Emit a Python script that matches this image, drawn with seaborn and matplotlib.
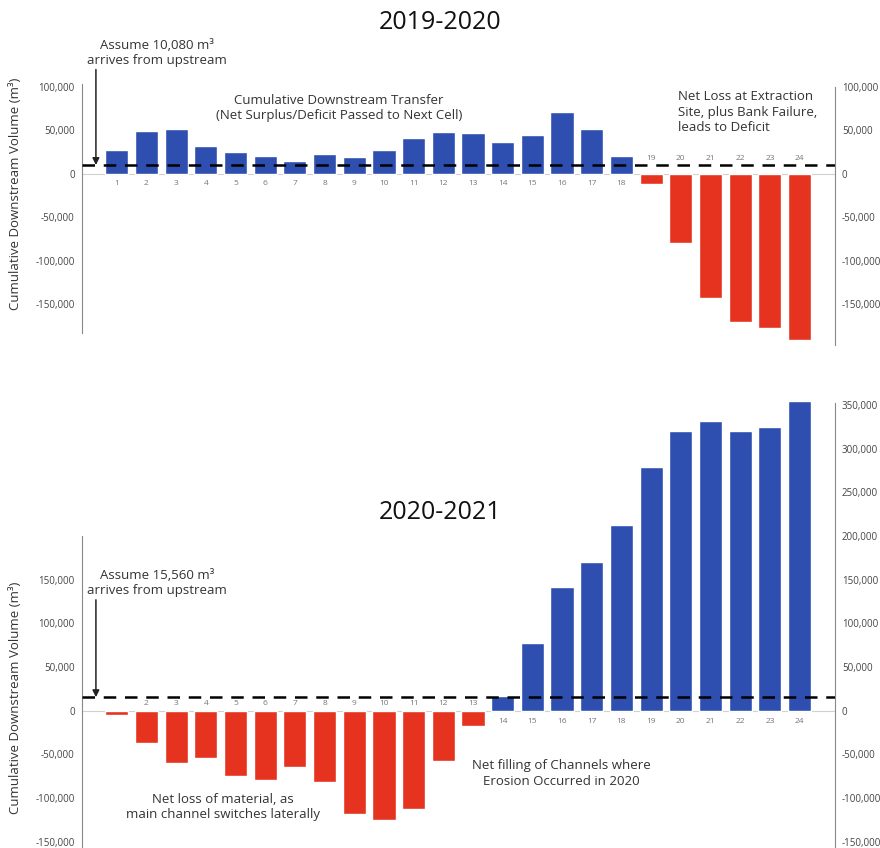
import pandas as pd
import matplotlib.pyplot as plt
import seaborn as sns
import numpy as np

# 数据
cells = list(range(1, 25))
vol_2019 = [27000, 49000, 51000, 32500, 25000, 20000, 15000, 22500, 19000, 27500,
            41500, 48000, 47000, 37000, 44500, 71000, 51000, 20000,
            -12000, -80000, -143000, -171000, -177000, -191000]
vol_2020 = [-5000, -37000, -60000, -54000, -75000, -79000, -64000, -82000, -118000, -125500,
            -112000, -58000, -17000, 17500, 77500, 142000, 170000, 213000,
            279000, 320000, 332000, 320000, 325000, 355000]
labels_2019 = [str(c) for c in cells]
labels_2020 = [''] + [str(c) for c in cells[1:]]
upstream_2019 = 10080
upstream_2020 = 15560

blue = '#2e4fb0'
red = '#e5331f'

sns.set_style('white')
plt.rcParams['font.family'] = ['Open Sans', 'DejaVu Sans']

fig = plt.figure(figsize=(8.8, 8.48), dpi=100)
ax1 = fig.add_axes([0.0928, 0.5932, 0.856, 0.3125])
ax2 = fig.add_axes([0.0928, 0.0, 0.856, 0.540])


def fmt(v):
    return f"{v:,}"


def draw_panel(ax, vols, labels, upstream, ylim, left_ticks, right_ticks, left_bounds, right_bounds,
               lab_up, lab_down):
    df = pd.DataFrame({'cell': cells, 'volume': vols})
    df['sign'] = np.where(df['volume'] >= 0, 'pos', 'neg')
    sns.barplot(data=df, x='cell', y='volume', hue='sign', palette={'pos': blue, 'neg': red},
                native_scale=True, width=0.78, dodge=False, legend=False, saturation=1,
                errorbar=None, ax=ax)
    ax.set_xlim(-0.18, 25.19)
    ax.set_ylim(*ylim)
    ax.axhline(0, color='#d0d0d0', lw=0.8, zorder=0)
    ax.axhline(upstream, color='black', lw=1.8, dashes=(5, 3.5), zorder=3)
    ax.set_xticks([])
    ax.set_xlabel('')
    ax.set_ylabel('Cumulative Downstream Volume (m³)', fontsize=9.5, color='#333')
    for s in ['top', 'right', 'bottom']:
        ax.spines[s].set_visible(False)
    ax.spines['left'].set_color('#888')
    ax.spines['left'].set_linewidth(0.8)
    ax.spines['left'].set_bounds(*left_bounds)
    ax.set_yticks(left_ticks)
    ax.set_yticklabels([fmt(t) for t in left_ticks])
    ax.tick_params(axis='y', labelsize=7, colors='#444', length=0, pad=5)

    # 单元编号标签
    for c, v, lab in zip(cells, vols, labels):
        off = -lab_down if v >= 0 else lab_up
        ax.annotate(lab, (c, 0), xytext=(0, off), textcoords='offset pixels',
                    ha='center', va='center', fontsize=6, color='#777', zorder=4)

    # 右侧坐标轴
    axr = ax.twinx()
    axr.set_ylim(*ylim)
    for s in ['top', 'left', 'bottom']:
        axr.spines[s].set_visible(False)
    axr.spines['right'].set_color('#888')
    axr.spines['right'].set_linewidth(0.8)
    axr.spines['right'].set_bounds(*right_bounds)
    axr.set_yticks(right_ticks)
    axr.set_yticklabels([fmt(t) for t in right_ticks])
    axr.tick_params(axis='y', labelsize=7, colors='#444', length=0, pad=5)
    return axr


draw_panel(ax1, vol_2019, labels_2019, upstream_2019, (-197000, 108000),
           [-150000, -100000, -50000, 0, 50000, 100000],
           [-150000, -100000, -50000, 0, 50000, 100000],
           (-183000, 103000), (-197000, 100000), 15, 10)
ax1.yaxis.set_label_coords(-0.079, 0.57)

draw_panel(ax2, vol_2020, labels_2020, upstream_2020, (-157000, 367000),
           [-150000, -100000, -50000, 0, 50000, 100000, 150000],
           [-150000, -100000, -50000, 0, 50000, 100000, 150000, 200000, 250000, 300000, 350000],
           (-157000, 200000), (-157000, 352000), 7, 11)
ax2.yaxis.set_label_coords(-0.079, 0.3275)

# 标题
fig.text(0.5, 0.974, '2019-2020', ha='center', va='center', fontsize=18, color='#111')
fig.text(0.5, 0.396, '2020-2021', ha='center', va='center', fontsize=18, color='#111')

# 注释 - 上图
txt_kw = dict(ha='center', va='center', fontsize=9.5, color='#333', linespacing=1.25, clip_on=False)
ax1.text(2.36, 139000, 'Assume 10,080 m³\narrives from upstream', **txt_kw)
ax1.annotate('', xy=(0.3, upstream_2019), xytext=(0.3, 120000), annotation_clip=False,
             arrowprops=dict(arrowstyle='-|>', color='#222', lw=1.1, mutation_scale=10,
                             shrinkA=0, shrinkB=0))
ax1.text(8.49, 76000, 'Cumulative Downstream Transfer\n(Net Surplus/Deficit Passed to Next Cell)',
         **txt_kw)
ax1.text(19.9, 71000, 'Net Loss at Extraction\nSite, plus Bank Failure,\nleads to Deficit',
         ha='left', va='center', fontsize=9.5, color='#333', linespacing=1.25)

# 注释 - 下图
ax2.text(2.36, 146000, 'Assume 15,560 m³\narrives from upstream', **txt_kw)
ax2.annotate('', xy=(0.3, upstream_2020), xytext=(0.3, 127000), annotation_clip=False,
             arrowprops=dict(arrowstyle='-|>', color='#222', lw=1.1, mutation_scale=10,
                             shrinkA=0, shrinkB=0))
ax2.text(4.58, -110000, 'Net loss of material, as\nmain channel switches laterally', **txt_kw)
ax2.text(15.99, -71500, 'Net filling of Channels where\nErosion Occurred in 2020', **txt_kw)

plt.savefig('out.png', dpi=100)
